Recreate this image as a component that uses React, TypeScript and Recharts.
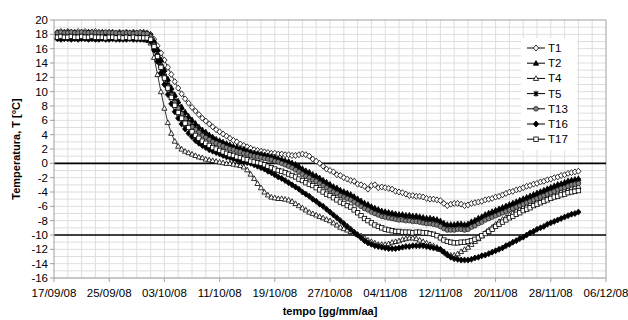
import React from 'react';
import { LineChart, Line, XAxis, YAxis, ReferenceLine, Legend, CartesianGrid } from 'recharts';

// x axis: days since 17/09/08
const tickDays = [0, 8, 16, 24, 32, 40, 48, 56, 64, 72, 80];
const tickDates = ['17/09/08', '25/09/08', '03/10/08', '11/10/08', '19/10/08', '27/10/08', '04/11/08', '12/11/08', '20/11/08', '28/11/08', '06/12/08'];
const yTicks = [-16, -14, -12, -10, -8, -6, -4, -2, 0, 2, 4, 6, 8, 10, 12, 14, 16, 18, 20];
const yGrid = [-15, -13, -11, -9, -7, -5, -3, -1, 1, 3, 5, 7, 9, 11, 13, 15, 17, 19, -16, -14, -12, -8, -6, -4, -2, 2, 4, 6, 8, 10, 12, 14, 16, 18];
const xGrid = [2, 4, 6, 8, 10, 12, 14, 16, 18, 20, 22, 24, 26, 28, 30, 32, 34, 36, 38, 40, 42, 44, 46, 48, 50, 52, 54, 56, 58, 60, 62, 64, 66, 68, 70, 72, 74, 76, 78];

// sampling instants (every 12 h, day 0.5 .. 76)
const sampleDays: number[] = Array.from({ length: 152 }, (_, i) => (i + 1) * 0.5);

const seriesNames = ['T1', 'T2', 'T4', 'T5', 'T13', 'T16', 'T17'];

const t1 = [
  18.3, 18.4, 18.3, 18.4, 18.3, 18.3, 18.4, 18.3, 18.4, 18.3,
  18.3, 18.4, 18.3, 18.3, 18.2, 18.3, 18.3, 18.2, 18.3, 18.2,
  18.3, 18.2, 18.3, 18.2, 18.3, 18.3, 18.2, 18.0, 17.3, 16.4,
  15.4, 14.4, 13.4, 12.4, 11.4, 10.5, 9.7, 9.0, 8.4, 7.8,
  7.3, 6.8, 6.3, 5.9, 5.5, 5.1, 4.7, 4.4, 4.1, 3.8,
  3.5, 3.2, 3.0, 2.7, 2.5, 2.3, 2.1, 1.9, 1.8, 1.7,
  1.6, 1.5, 1.4, 1.4, 1.3, 1.3, 1.2, 1.2, 1.1, 1.1,
  1.2, 1.3, 1.2, 1.0, 0.6, 0.3, 0.0, -0.4, -0.8, -1.0,
  -1.2, -1.6, -1.7, -2.0, -2.2, -2.4, -2.5, -2.9, -3.0, -3.2,
  -3.6, -3.1, -3.0, -3.4, -3.3, -3.4, -3.5, -3.6, -3.9, -4.0,
  -4.1, -4.3, -4.5, -4.5, -4.6, -4.6, -4.7, -4.9, -5.0, -5.0,
  -5.1, -5.2, -5.6, -5.9, -5.7, -5.6, -5.6, -5.7, -5.9, -5.8,
  -5.6, -5.5, -5.4, -5.3, -5.1, -5.0, -4.9, -4.7, -4.6, -4.4,
  -4.2, -4.0, -3.9, -3.7, -3.6, -3.4, -3.2, -3.1, -2.9, -2.8,
  -2.6, -2.5, -2.3, -2.2, -2.0, -1.9, -1.7, -1.6, -1.4, -1.3,
  -1.2, -1.1,
];

const t2 = [
  18.2, 18.1, 18.2, 18.3, 18.2, 18.2, 18.1, 18.2, 18.2, 18.3,
  18.2, 18.2, 18.1, 18.2, 18.2, 18.1, 18.2, 18.1, 18.2, 18.1,
  18.2, 18.1, 18.2, 18.1, 18.1, 18.2, 18.1, 17.9, 17.1, 15.9,
  14.5, 13.1, 11.8, 10.6, 9.6, 8.7, 7.9, 7.2, 6.6, 6.1,
  5.6, 5.1, 4.7, 4.4, 4.0, 3.7, 3.4, 3.2, 3.0, 2.8,
  2.6, 2.4, 2.3, 2.1, 2.0, 1.8, 1.6, 1.5, 1.4, 1.3,
  1.2, 1.1, 1.0, 0.9, 0.7, 0.6, 0.4, 0.3, 0.1, -0.1,
  -0.4, -0.7, -1.0, -1.2, -1.5, -1.7, -2.0, -2.3, -2.6, -2.9,
  -3.2, -3.4, -3.7, -3.9, -4.1, -4.3, -4.6, -4.9, -5.2, -5.5,
  -5.7, -6.0, -6.2, -6.4, -6.6, -6.7, -6.8, -6.9, -7.0, -7.1,
  -7.1, -7.2, -7.2, -7.3, -7.3, -7.4, -7.5, -7.6, -7.6, -7.7,
  -7.8, -8.0, -8.3, -8.5, -8.5, -8.5, -8.4, -8.4, -8.5, -8.4,
  -8.1, -7.9, -7.6, -7.4, -7.1, -6.9, -6.7, -6.5, -6.3, -6.1,
  -5.9, -5.7, -5.5, -5.3, -5.1, -4.9, -4.7, -4.5, -4.3, -4.1,
  -3.9, -3.7, -3.5, -3.3, -3.1, -2.9, -2.8, -2.6, -2.4, -2.3,
  -2.2, -2.1,
];

const t4 = [
  17.5, 17.4, 17.5, 17.5, 17.4, 17.5, 17.4, 17.5, 17.5, 17.4,
  17.5, 17.4, 17.4, 17.5, 17.4, 17.4, 17.5, 17.4, 17.4, 17.4,
  17.4, 17.5, 17.4, 17.4, 17.4, 17.3, 17.2, 16.8, 14.8, 12.4,
  10.0, 7.7, 5.7, 4.2, 3.1, 2.4, 2.0, 1.7, 1.5, 1.3,
  1.1, 0.9, 0.8, 0.6, 0.5, 0.4, 0.3, 0.2, 0.1, 0.0,
  0.0, -0.1, -0.2, -0.3, -0.5, -0.9, -1.5, -2.1, -2.8, -3.4,
  -4.0, -4.4, -4.7, -4.8, -4.9, -4.9, -5.0, -5.1, -5.3, -5.6,
  -5.9, -6.2, -6.5, -6.8, -7.0, -7.2, -7.4, -7.6, -7.8, -8.0,
  -8.3, -8.6, -8.9, -9.1, -9.3, -9.5, -9.7, -9.9, -10.1, -10.4,
  -10.7, -10.9, -11.1, -11.3, -11.3, -11.3, -11.2, -11.0, -10.9, -10.8,
  -10.6, -10.5, -10.4, -10.4, -10.5, -10.7, -10.9, -11.1, -11.3, -11.5,
  -11.7, -12.0, -12.3, -12.6, -12.8, -12.8, -12.6, -12.3, -12.0, -11.7,
  -11.3, -10.9, -10.5, -10.1, -9.7, -9.3, -8.9, -8.5, -8.1, -7.8,
  -7.5, -7.2, -6.9, -6.6, -6.4, -6.1, -5.9, -5.6, -5.4, -5.2,
  -5.0, -4.8, -4.6, -4.4, -4.2, -4.0, -3.9, -3.7, -3.6, -3.4,
  -3.3, -3.2,
];

const t5 = [
  18.1, 18.2, 18.1, 18.1, 18.2, 18.0, 18.1, 18.1, 18.0, 18.1,
  18.1, 18.0, 18.1, 18.1, 18.0, 18.1, 18.0, 18.1, 18.0, 18.0,
  18.1, 18.0, 18.0, 18.1, 18.0, 18.0, 18.0, 17.8, 16.8, 15.5,
  14.0, 12.6, 11.3, 10.1, 9.1, 8.2, 7.4, 6.7, 6.1, 5.6,
  5.1, 4.7, 4.3, 4.0, 3.7, 3.4, 3.1, 2.9, 2.7, 2.5,
  2.3, 2.1, 2.0, 1.8, 1.7, 1.5, 1.3, 1.2, 1.1, 1.0,
  0.9, 0.8, 0.7, 0.6, 0.4, 0.3, 0.1, 0.0, -0.2, -0.5,
  -0.8, -1.1, -1.4, -1.6, -1.9, -2.1, -2.4, -2.7, -3.0, -3.3,
  -3.6, -3.8, -4.1, -4.3, -4.5, -4.7, -5.0, -5.3, -5.6, -5.9,
  -6.1, -6.4, -6.6, -6.8, -7.0, -7.1, -7.2, -7.3, -7.4, -7.5,
  -7.5, -7.6, -7.6, -7.7, -7.7, -7.8, -7.9, -8.0, -8.0, -8.1,
  -8.2, -8.4, -8.7, -8.9, -8.9, -8.9, -8.8, -8.8, -8.9, -8.8,
  -8.5, -8.3, -8.0, -7.8, -7.5, -7.3, -7.1, -6.9, -6.7, -6.5,
  -6.3, -6.1, -5.9, -5.7, -5.5, -5.3, -5.1, -4.9, -4.7, -4.5,
  -4.3, -4.1, -3.9, -3.7, -3.5, -3.3, -3.1, -3.0, -2.8, -2.6,
  -2.5, -2.4,
];

const t13 = [
  18.2, 18.3, 18.2, 18.2, 18.3, 18.2, 18.2, 18.3, 18.2, 18.2,
  18.3, 18.2, 18.2, 18.2, 18.3, 18.2, 18.2, 18.2, 18.1, 18.2,
  18.2, 18.2, 18.1, 18.2, 18.2, 18.1, 18.1, 17.7, 16.5, 15.0,
  13.5, 12.0, 10.7, 9.5, 8.5, 7.7, 6.9, 6.2, 5.6, 5.1,
  4.7, 4.3, 3.9, 3.6, 3.3, 3.0, 2.8, 2.6, 2.4, 2.2,
  2.0, 1.9, 1.7, 1.6, 1.4, 1.3, 1.1, 1.0, 0.9, 0.8,
  0.7, 0.6, 0.5, 0.3, 0.2, 0.0, -0.2, -0.4, -0.6, -0.9,
  -1.2, -1.5, -1.8, -2.0, -2.3, -2.5, -2.8, -3.1, -3.4, -3.7,
  -4.0, -4.2, -4.5, -4.7, -4.9, -5.1, -5.4, -5.7, -6.0, -6.3,
  -6.5, -6.8, -7.0, -7.2, -7.4, -7.5, -7.6, -7.7, -7.8, -7.9,
  -7.9, -8.0, -8.0, -8.1, -8.1, -8.2, -8.3, -8.4, -8.4, -8.5,
  -8.6, -8.8, -9.1, -9.3, -9.3, -9.3, -9.2, -9.2, -9.3, -9.2,
  -8.9, -8.7, -8.4, -8.2, -7.9, -7.7, -7.5, -7.3, -7.1, -6.9,
  -6.7, -6.5, -6.3, -6.1, -5.9, -5.7, -5.5, -5.3, -5.1, -4.9,
  -4.7, -4.5, -4.3, -4.1, -3.9, -3.7, -3.5, -3.4, -3.2, -3.0,
  -2.9, -2.8,
];

const t16 = [
  17.4, 17.3, 17.4, 17.4, 17.3, 17.4, 17.3, 17.4, 17.4, 17.3,
  17.4, 17.3, 17.3, 17.4, 17.3, 17.3, 17.4, 17.3, 17.3, 17.3,
  17.3, 17.4, 17.3, 17.3, 17.3, 17.3, 17.2, 17.0, 15.8, 14.2,
  12.6, 11.0, 9.6, 8.3, 7.2, 6.3, 5.5, 4.8, 4.2, 3.7,
  3.2, 2.8, 2.5, 2.2, 1.9, 1.7, 1.5, 1.3, 1.1, 0.9,
  0.8, 0.6, 0.5, 0.3, 0.2, 0.1, 0.0, -0.2, -0.4, -0.6,
  -0.8, -1.1, -1.3, -1.6, -1.9, -2.1, -2.4, -2.7, -3.0, -3.3,
  -3.6, -4.0, -4.3, -4.6, -5.0, -5.3, -5.7, -6.0, -6.4, -6.8,
  -7.2, -7.6, -8.0, -8.4, -8.8, -9.2, -9.6, -10.0, -10.4, -10.8,
  -11.1, -11.3, -11.5, -11.6, -11.7, -11.8, -11.9, -11.9, -11.9, -11.8,
  -11.7, -11.6, -11.6, -11.5, -11.5, -11.5, -11.5, -11.6, -11.7, -11.8,
  -11.9, -12.0, -12.4, -12.8, -13.1, -13.3, -13.4, -13.5, -13.5, -13.5,
  -13.4, -13.2, -13.1, -12.9, -12.8, -12.6, -12.4, -12.2, -12.0, -11.8,
  -11.5, -11.3, -11.0, -10.8, -10.5, -10.3, -10.0, -9.7, -9.5, -9.2,
  -9.0, -8.8, -8.5, -8.3, -8.1, -7.9, -7.7, -7.5, -7.3, -7.1,
  -7.0, -6.8,
];

const t17 = [
  17.6, 17.7, 17.6, 17.6, 17.7, 17.6, 17.6, 17.7, 17.6, 17.6,
  17.7, 17.6, 17.6, 17.6, 17.5, 17.6, 17.6, 17.5, 17.6, 17.5,
  17.6, 17.5, 17.6, 17.5, 17.5, 17.5, 17.5, 17.3, 16.3, 14.9,
  13.4, 11.9, 10.5, 9.2, 8.1, 7.1, 6.3, 5.6, 5.0, 4.4,
  3.9, 3.5, 3.1, 2.8, 2.5, 2.2, 2.0, 1.8, 1.6, 1.4,
  1.2, 1.1, 0.9, 0.8, 0.6, 0.5, 0.3, 0.2, 0.1, 0.0,
  -0.2, -0.4, -0.6, -0.8, -1.0, -1.1, -1.3, -1.5, -1.7, -1.9,
  -2.2, -2.4, -2.7, -2.9, -3.1, -3.4, -3.7, -4.0, -4.3, -4.5,
  -4.8, -5.1, -5.4, -5.6, -5.9, -6.1, -6.5, -6.9, -7.3, -7.7,
  -8.0, -8.3, -8.6, -8.8, -9.0, -9.2, -9.3, -9.4, -9.5, -9.5,
  -9.6, -9.6, -9.6, -9.7, -9.6, -9.6, -9.7, -9.7, -9.8, -9.9,
  -10.1, -10.4, -10.7, -10.9, -11.0, -11.1, -11.1, -11.0, -11.0, -10.9,
  -10.8, -10.6, -10.4, -10.1, -9.8, -9.5, -9.2, -8.8, -8.5, -8.2,
  -7.9, -7.6, -7.4, -7.1, -6.9, -6.6, -6.4, -6.2, -5.9, -5.7,
  -5.5, -5.3, -5.1, -4.9, -4.7, -4.6, -4.4, -4.3, -4.1, -4.0,
  -3.9, -3.8,
];

const seriesValues = [t1, t2, t4, t5, t13, t16, t17];
const seriesShapes = ['diamondOpen', 'triangleFilled', 'triangleOpen', 'star', 'circleGrey', 'diamondFilled', 'squareOpen'];

const data = sampleDays.map((d, i) => {
  const row: Record<string, number> = { day: d };
  seriesNames.forEach((n, k) => {
    row[n] = seriesValues[k][i];
  });
  return row;
});

function Marker({ shape, cx, cy }: { shape: string; cx: number; cy: number }) {
  const s = 2.6;
  switch (shape) {
    case 'diamondOpen':
      return <path d={`M${cx},${cy - s - 0.4}L${cx + s},${cy}L${cx},${cy + s + 0.4}L${cx - s},${cy}Z`} fill="#fff" stroke="#000" strokeWidth={0.8} />;
    case 'diamondFilled':
      return <path d={`M${cx},${cy - s - 0.4}L${cx + s},${cy}L${cx},${cy + s + 0.4}L${cx - s},${cy}Z`} fill="#000" stroke="#000" strokeWidth={0.8} />;
    case 'triangleFilled':
      return <path d={`M${cx},${cy - s}L${cx + s},${cy + s * 0.8}L${cx - s},${cy + s * 0.8}Z`} fill="#000" stroke="#000" strokeWidth={0.8} />;
    case 'triangleOpen':
      return <path d={`M${cx},${cy - s}L${cx + s},${cy + s * 0.8}L${cx - s},${cy + s * 0.8}Z`} fill="#fff" stroke="#000" strokeWidth={0.8} />;
    case 'star':
      return (
        <path
          d={`M${cx - 2.2},${cy - 2.2}L${cx + 2.2},${cy + 2.2}M${cx - 2.2},${cy + 2.2}L${cx + 2.2},${cy - 2.2}M${cx},${cy - 2.8}L${cx},${cy + 2.8}`}
          stroke="#000"
          strokeWidth={1.2}
          fill="none"
        />
      );
    case 'circleGrey':
      return <circle cx={cx} cy={cy} r={2.4} fill="#7f7f7f" stroke="#000" strokeWidth={0.6} />;
    case 'squareOpen':
    default:
      return <rect x={cx - 2.2} y={cy - 2.2} width={4.4} height={4.4} fill="#fff" stroke="#000" strokeWidth={0.8} />;
  }
}

const makeDot = (shape: string) => (props: any) => {
  const { cx, cy, index } = props;
  if (cx == null || cy == null) return <g key={`e-${index}`} />;
  return (
    <g key={`d-${shape}-${index}`}>
      <Marker shape={shape} cx={cx} cy={cy} />
    </g>
  );
};

const LegendBox = () => (
  <div style={{ background: '#fff', width: 56, height: 112 }}>
    <svg width={56} height={112} style={{ display: 'block' }}>
      {seriesNames.map((n, k) => {
        const y = 10 + k * 15.2;
        return (
          <g key={n}>
            <line x1={6} x2={24} y1={y} y2={y} stroke="#000" strokeWidth={1} />
            <Marker shape={seriesShapes[k]} cx={15} cy={y} />
            <text x={27} y={y + 4} fontSize={11.5} fontFamily="'Liberation Sans', Arial, sans-serif" fill="#000">
              {n}
            </text>
          </g>
        );
      })}
    </svg>
  </div>
);

const fontFamily = "'Liberation Sans', Arial, sans-serif";
const axisGrey = '#a0a0a0';

export default function App() {
  return (
    <div style={{ position: 'absolute', left: 0, top: 0, width: 628, height: 320, background: '#fff', fontFamily }}>
      <LineChart width={628} height={320} data={data} margin={{ top: 20, right: 22, bottom: 0, left: 0 }}>
        <CartesianGrid stroke="#dedede" strokeWidth={1} horizontalValues={yGrid} verticalValues={xGrid} />
        <XAxis
          type="number"
          dataKey="day"
          domain={[0, 80]}
          ticks={tickDays}
          interval={0}
          allowDataOverflow
          tickFormatter={(v: number) => tickDates[tickDays.indexOf(v)]}
          height={42}
          tickSize={4}
          tickMargin={7}
          stroke={axisGrey}
          tick={{ fontSize: 11.5, fill: '#000', fontFamily }}
          label={{ value: 'tempo [gg/mm/aa]', position: 'insideBottom', offset: 5, style: { fontSize: 11, fontWeight: 'bold', fill: '#000', fontFamily } }}
        />
        <YAxis
          type="number"
          domain={[-16, 20]}
          ticks={yTicks}
          interval={0}
          allowDataOverflow
          width={54}
          tickSize={4}
          tickMargin={2}
          stroke={axisGrey}
          tick={{ fontSize: 11.5, fill: '#000', fontFamily }}
          label={{ value: 'Temperatura, T [°C]', angle: -90, position: 'insideLeft', offset: 16, style: { textAnchor: 'middle', fontSize: 11, fontWeight: 'bold', fill: '#000', fontFamily } }}
        />
        <ReferenceLine y={20} stroke={axisGrey} strokeWidth={1} />
        <ReferenceLine x={80} stroke={axisGrey} strokeWidth={1} />
        {seriesNames.map((n, k) => (
          <Line
            key={n}
            type="linear"
            dataKey={n}
            stroke="#000"
            strokeWidth={0.8}
            dot={makeDot(seriesShapes[k])}
            activeDot={false}
            isAnimationActive={false}
          />
        ))}
        <ReferenceLine y={0} stroke="#000" strokeWidth={1.6} />
        <ReferenceLine y={-10} stroke="#000" strokeWidth={1.6} />
        <Legend
          layout="vertical"
          align="center"
          verticalAlign="middle"
          content={() => <LegendBox />}
          wrapperStyle={{ position: 'absolute', left: 521, top: 38, width: 56, height: 112, margin: 0, padding: 0 }}
        />
      </LineChart>
    </div>
  );
}
